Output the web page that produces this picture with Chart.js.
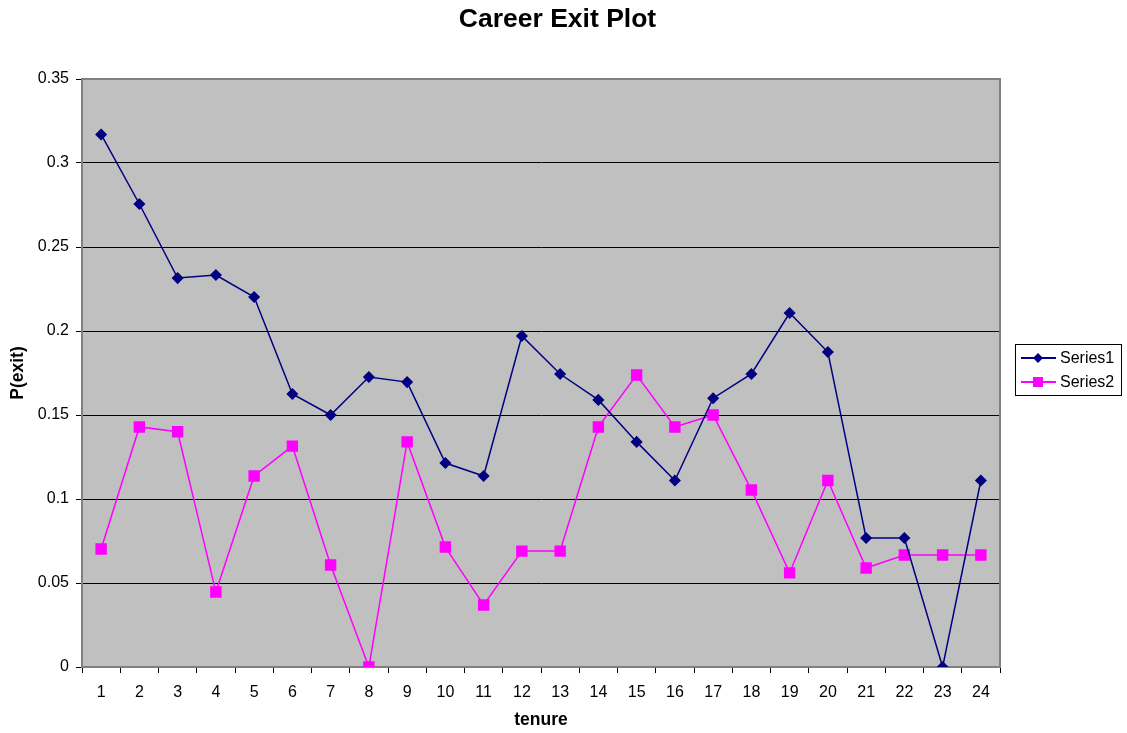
<!DOCTYPE html>
<html>
<head>
<meta charset="utf-8">
<script src="https://cdn.jsdelivr.net/npm/chart.js@4/dist/chart.umd.min.js"></script>
<style>
  body { margin: 0; background: #fff; }
  #wrap { width: 1127px; height: 733px; }
</style>
</head>
<body>
<div id="wrap"><canvas id="myChart" width="1127" height="733"></canvas></div>
<script>
const tenure = ['1','2','3','4','5','6','7','8','9','10','11','12','13','14','15','16','17','18','19','20','21','22','23','24'];
const series1 = [0.317, 0.2756, 0.2315, 0.2333, 0.2202, 0.1625, 0.15, 0.1726, 0.1696, 0.1214, 0.1137, 0.197,
                 0.1744, 0.159, 0.134, 0.111, 0.16, 0.1744, 0.2107, 0.1875, 0.0768, 0.0768, 0, 0.111];
const series2 = [0.0702, 0.1429, 0.14, 0.0446, 0.1137, 0.1315, 0.0607, 0, 0.134, 0.0714, 0.0369, 0.069,
                 0.069, 0.1429, 0.1738, 0.1429, 0.15, 0.1054, 0.056, 0.111, 0.0589, 0.0667, 0.0667, 0.0667];

const FONT = '"Liberation Sans", Arial, sans-serif';

// grey plot area plus border, like the Excel chart
const plotBg = {
  id: 'plotBg',
  beforeDraw(chart) {
    const a = chart.chartArea, ctx = chart.ctx;
    ctx.save();
    ctx.fillStyle = '#c0c0c0';
    ctx.fillRect(a.left, a.top, a.right - a.left, a.bottom - a.top);
    ctx.restore();
  },
  afterDatasetsDraw(chart) {
    const a = chart.chartArea, ctx = chart.ctx;
    ctx.save();
    ctx.strokeStyle = '#808080';
    ctx.lineWidth = 2;
    ctx.beginPath();
    ctx.moveTo(a.left, a.top);
    ctx.lineTo(a.right, a.top);
    ctx.lineTo(a.right, a.bottom);
    ctx.stroke();
    ctx.restore();
  }
};

// boxed legend on the right
const boxLegend = {
  id: 'boxLegend',
  afterDraw(chart) {
    const ctx = chart.ctx;
    const x = 1015, y = 344, w = 106, h = 51;
    ctx.save();
    ctx.strokeStyle = '#000';
    ctx.lineWidth = 1;
    ctx.strokeRect(x + 0.5, y + 0.5, w, h);
    chart.data.datasets.forEach((ds, i) => {
      const ly = y + 14 + i * 24;
      ctx.strokeStyle = ds.borderColor;
      ctx.lineWidth = 2;
      ctx.beginPath();
      ctx.moveTo(x + 6, ly);
      ctx.lineTo(x + 41, ly);
      ctx.stroke();
      ctx.fillStyle = ds.backgroundColor;
      ctx.beginPath();
      if (ds.pointStyle === 'rectRot') {
        ctx.moveTo(x + 23, ly - 5);
        ctx.lineTo(x + 28, ly);
        ctx.lineTo(x + 23, ly + 5);
        ctx.lineTo(x + 18, ly);
      } else {
        ctx.rect(x + 18, ly - 5, 10, 10);
      }
      ctx.fill();
      ctx.fillStyle = '#000';
      ctx.font = '16px ' + FONT;
      ctx.textBaseline = 'middle';
      ctx.fillText(ds.label, x + 45, ly + 1);
    });
    ctx.restore();
  }
};

const ctx = document.getElementById('myChart');
new Chart(ctx, {
  type: 'line',
  data: {
    labels: tenure,
    datasets: [{
      label: 'Series1',
      data: series1,
      borderColor: '#000080',
      backgroundColor: '#000080',
      borderWidth: 1.5,
      pointStyle: 'rectRot',
      pointRadius: 5,
      pointHoverRadius: 5,
      tension: 0
    }, {
      label: 'Series2',
      data: series2,
      borderColor: '#ff00ff',
      backgroundColor: '#ff00ff',
      borderWidth: 1.5,
      pointStyle: 'rect',
      pointRadius: 7,
      pointHoverRadius: 7,
      tension: 0
    }]
  },
  options: {
    responsive: false,
    animation: false,
    layout: { padding: { left: 0, right: 12, top: 0, bottom: 0 } },
    plugins: {
      legend: { display: false },
      tooltip: { enabled: false },
      title: {
        display: true,
        text: 'Career Exit Plot',
        color: '#000',
        font: { family: FONT, size: 26.5, weight: 'bold', lineHeight: 1.2 },
        padding: { top: 3.5, bottom: 43.7 }
      }
    },
    scales: {
      x: {
        offset: true,
        afterFit(scale) { scale.height = 66; },
        grid: { offset: true, drawOnChartArea: false, color: '#000', tickLength: 6, tickWidth: 1 },
        border: { color: '#808080', width: 2 },
        ticks: { color: '#000', font: { family: FONT, size: 16 }, padding: 10, maxRotation: 0, autoSkip: false },
        title: {
          display: true, text: 'tenure', color: '#000',
          font: { family: FONT, size: 17.5, weight: 'bold', lineHeight: 1.2 },
          padding: { top: 0, bottom: 2.5 }
        }
      },
      y: {
        min: 0,
        max: 0.35,
        afterFit(scale) { scale.width = 82; },
        grid: { color: '#000', lineWidth: 1, tickLength: 6 },
        border: { color: '#808080', width: 2 },
        ticks: {
          stepSize: 0.05, color: '#000', font: { family: FONT, size: 16 }, padding: 7,
          callback: v => String(parseFloat(v.toFixed(2)))
        },
        title: {
          display: true, text: 'P(exit)', color: '#000',
          font: { family: FONT, size: 17.5, weight: 'bold', lineHeight: 1.2 },
          padding: { top: 7.5, bottom: 0 }
        }
      },
      // empty right-hand scale that only reserves room for the legend
      side: {
        type: 'linear',
        position: 'right',
        afterFit(scale) { scale.width = 115; },
        grid: { display: false },
        border: { display: false },
        ticks: { display: false }
      }
    }
  },
  plugins: [plotBg, boxLegend]
});
</script>
</body>
</html>
